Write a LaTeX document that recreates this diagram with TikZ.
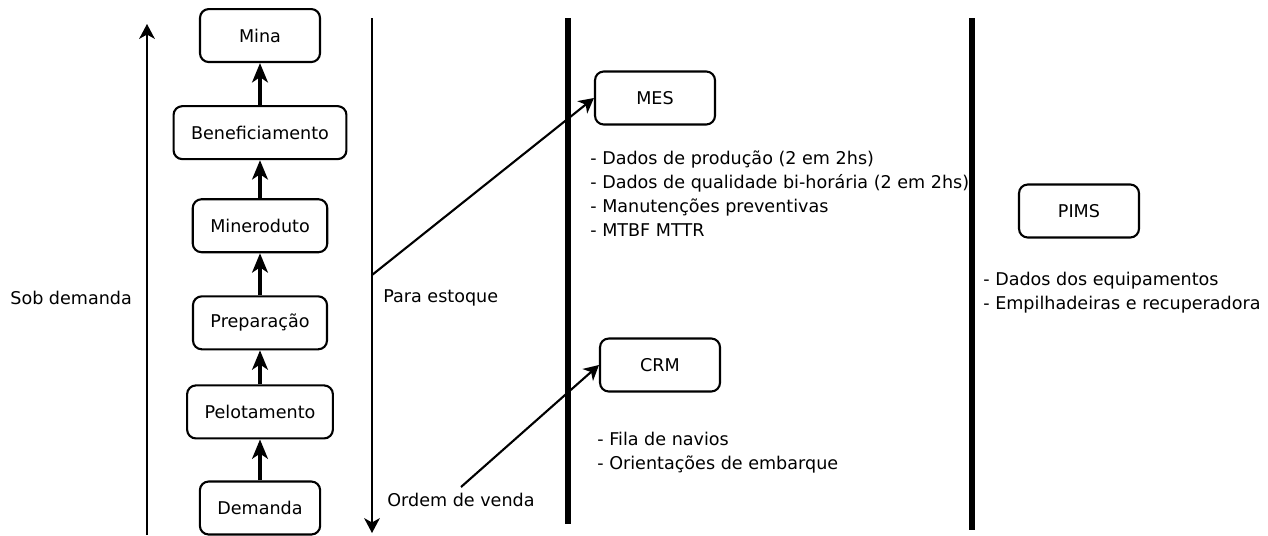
\documentclass[tikz,border=0pt]{standalone}
\usepackage{fontspec}
\setmainfont{DejaVu Sans}
\usepackage{tikz}
\usetikzlibrary{arrows.meta, positioning}

\begin{document}
\begin{tikzpicture}[
    x=0.02cm, y=-0.02cm,
    font=\fontsize{10}{13.7}\selectfont,
    >=Stealth,
    etapa/.style={
        rectangle,
        rounded corners=5pt,
        draw=black,
        line width=1.2pt,
        align=center,
        inner xsep=0.35cm,
        minimum width=2.4cm,
        minimum height=1.06cm
    },
    sistema/.style={etapa},
    lista/.style={anchor=west, align=left, inner sep=0pt},
    rotulo/.style={anchor=west, inner sep=0pt},
    fluxo/.style={-{Stealth[length=11pt, width=9pt, inset=3pt]}, line width=1.8pt},
    seta/.style={-{Stealth[length=8.5pt, width=9pt, inset=2.5pt]}, line width=0.8pt},
    ligacao/.style={seta, line width=1.2pt},
    divisa/.style={line width=3.4pt}
]
    \useasboundingbox (0,0) rectangle (1268,535);

    % --- Cadeia de producao ---
    \node[etapa] (demanda) at (260,508) {Demanda};
    \node[etapa, above=0.82cm of demanda] (pelot) {Pelotamento};
    \node[etapa, above=0.68cm of pelot] (prep) {Preparação};
    \node[etapa, above=0.84cm of prep] (miner) {Mineroduto};
    \node[etapa, above=0.76cm of miner] (benef) {Beneficiamento};
    \node[etapa, above=0.84cm of benef] (mina) {Mina};

    \draw[fluxo] (demanda) -- (pelot);
    \draw[fluxo] (pelot) -- (prep);
    \draw[fluxo] (prep) -- (miner);
    \draw[fluxo] (miner) -- (benef);
    \draw[fluxo] (benef) -- (mina);

    % --- Sentidos ---
    \coordinate (sobbase) at (147,535);
    \coordinate (sobtopo) at (147,24);
    \draw[seta] (sobbase) -- (sobtopo);
    \node[rotulo] (sob) at (10,298) {Sob demanda};

    \coordinate (estqtopo) at (372,18);
    \coordinate (estqbase) at (372,533);
    \draw[seta] (estqtopo) -- (estqbase);
    \node[rotulo] (estoque) at (383,298) {Para estoque};
    \node (ordem) at (461,500) {Ordem de venda};

    % --- Divisoes ---
    \coordinate (div1a) at (568,18);
    \coordinate (div1b) at (568,524);
    \coordinate (div2a) at (972,18);
    \coordinate (div2b) at (972,530);
    \draw[divisa] (div1a) -- (div1b);
    \draw[divisa] (div2a) -- (div2b);

    % --- Sistemas ---
    \node[sistema] (mes) at (655,98) {MES};
    \node[sistema] (crm) at (660,365) {CRM};
    \node[sistema] (pims) at (1079,211) {PIMS};

    \node[lista] (mesdados) at (590,194) {- Dados de produção (2 em 2hs)\\- Dados de qualidade bi-horária (2 em 2hs)\\- Manutenções preventivas\\- MTBF MTTR};
    \node[lista] (crmdados) at (597,453) {- Fila de navios\\- Orientações de embarque};
    \node[lista] (pimsdados) at (983,293) {- Dados dos equipamentos\\- Empilhadeiras e recuperadora};

    % --- Ligacoes ---
    \coordinate (estqsai) at (372,275);
    \draw[ligacao] (estqsai) -- (mes.west);
    \draw[ligacao] (ordem.north) -- (crm.west);
\end{tikzpicture}
\end{document}
